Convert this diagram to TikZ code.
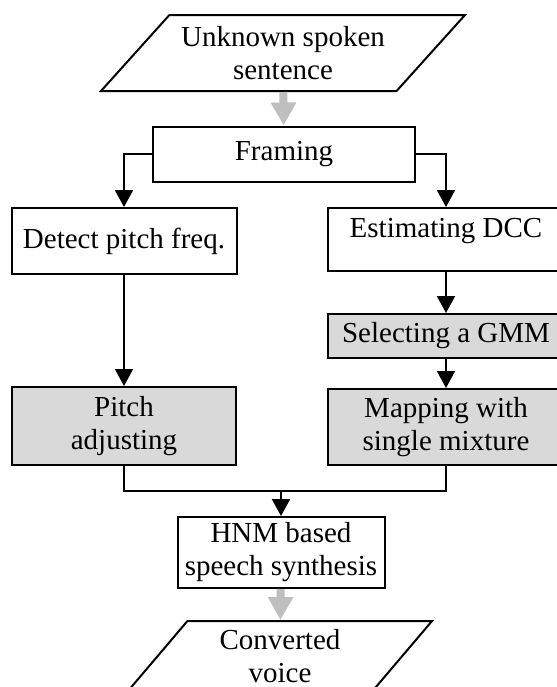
\documentclass[tikz,border=0pt]{standalone}
\usepackage{fontspec}
\setmainfont{Liberation Serif}
\usepackage{tikz}
\usetikzlibrary{arrows.meta,positioning,calc,shapes.geometric}
\definecolor{boxgray}{HTML}{D9D9D9}
\definecolor{arrowgray}{HTML}{BFBFBF}

\begin{document}
\begin{tikzpicture}[x=0.5pt, y=-0.5pt,
  every node/.style={font=\fontsize{14.5}{16.5}\selectfont, align=center, inner sep=1pt},
  procbox/.style={draw, line width=1pt, rectangle},
  greybox/.style={procbox, fill=boxgray},
  iobox/.style={draw, line width=1pt, trapezium, trapezium stretches body=true},
  flow/.style={line width=1pt, -{Triangle[width=9pt,length=8.5pt]}},
  feed/.style={line width=4pt, arrowgray, -{Triangle[width=12pt,length=11.5pt]}}]
  \useasboundingbox (0,0) rectangle (557,687);
  % input and framing
  \node[iobox, trapezium left angle=40, trapezium right angle=140, minimum width=182pt, minimum height=38pt] (input) at (283,53) {Unknown spoken\\sentence};
  \node[procbox, minimum width=131pt, minimum height=27.5pt] (framing) at (284,154) {Framing};
  % two branches
  \node[procbox, minimum width=112.5pt, minimum height=33pt] (detect) at (124,241) {Detect pitch freq.};
  \node[procbox, minimum width=118pt, minimum height=31.5pt, text depth=12pt] (estim) at (446,239.5) {Estimating DCC};
  \node[greybox, minimum width=118pt, minimum height=22pt] (select) at (446,336) {Selecting a GMM};
  \node[greybox, minimum width=118pt, minimum height=38pt] (mapping) at (446,427) {Mapping with\\single mixture};
  \node[greybox, minimum width=112pt, minimum height=39pt] (pitch) at (124,426) {Pitch\\adjusting};
  % synthesis and output
  \node[procbox, minimum width=103.5pt, minimum height=35.5pt] (hnm) at (281,552.5) {HNM based\\speech synthesis};
  \node[iobox, trapezium left angle=44, trapezium right angle=136, minimum width=152pt, minimum height=35pt] (output) at (280,656) {Converted\\voice};
  \coordinate (merge) at (281,491);
  \draw[feed] (input) -- (framing);
  \draw[flow] (framing.west) -| (detect.north);
  \draw[flow] (framing.east) -| (estim.north);
  \draw[flow] (detect) -- (pitch);
  \draw[flow] (estim) -- (select);
  \draw[flow] (select) -- (mapping);
  \draw[line width=1pt] (pitch.south) |- (merge) -| (mapping.south);
  \draw[flow] (merge) -- (hnm);
  \draw[feed] (hnm) -- (output);
\end{tikzpicture}
\end{document}
